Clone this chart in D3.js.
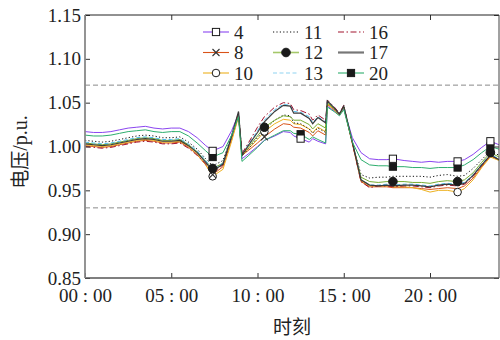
<!DOCTYPE html>
<html>
<head>
<meta charset="utf-8">
<script src="https://cdn.jsdelivr.net/npm/d3@7"></script>
<style>
body { margin: 0; background: #fff; }
text { font-family: "Liberation Serif", "Times New Roman", serif; fill: #222; }
.cjk { font-family: "Noto Sans CJK SC", sans-serif; }
</style>
</head>
<body>
<script>
// ----------------------------------------------- Data ------------------------------------------------ //
// time of day in hours
var hours = [0, 0.5, 1, 1.5, 2, 2.5, 3, 3.5, 4, 4.5,
    5, 5.5, 6, 6.5, 7, 7.4, 8, 8.5, 8.9, 9.1,
    9.5, 10, 10.4, 11, 11.5, 11.9, 12.1, 12.5, 13, 13.2,
    13.5, 13.95, 14.05, 14.5, 14.75, 15, 15.5, 16, 16.5, 17,
    17.5, 17.85, 18.5, 19, 19.5, 20, 20.5, 21, 21.6, 22,
    22.5, 23, 23.5, 24];

// node voltages (p.u.)
var v4 = [1.017, 1.016, 1.016, 1.017, 1.019, 1.021, 1.022, 1.023, 1.021, 1.020,
    1.021, 1.021, 1.017, 1.010, 1.001, 0.995, 1.000, 1.018, 1.037, 0.986,
    0.992, 1.000, 1.007, 1.012, 1.017, 1.016, 1.012, 1.009, 1.005, 1.009,
    1.006, 1.003, 1.046, 1.040, 1.036, 1.043, 1.010, 0.993, 0.986, 0.985,
    0.985, 0.986, 0.984, 0.983, 0.982, 0.983, 0.982, 0.983, 0.983, 0.985,
    0.991, 0.999, 1.006, 1.002];
var v8 = [1.001, 1.000, 0.999, 1.000, 1.002, 1.004, 1.006, 1.007, 1.006, 1.004,
    1.004, 1.005, 0.999, 0.991, 0.979, 0.968, 0.977, 1.008, 1.035, 0.990,
    0.996, 1.004, 1.011, 1.020, 1.026, 1.025, 1.022, 1.021, 1.016, 1.012,
    1.018, 1.013, 1.048, 1.041, 1.036, 1.045, 1.003, 0.960, 0.954, 0.954,
    0.954, 0.953, 0.953, 0.953, 0.952, 0.951, 0.952, 0.953, 0.952, 0.955,
    0.964, 0.977, 0.989, 0.985];
var v10 = [1.002, 1.001, 1.000, 1.001, 1.003, 1.005, 1.007, 1.008, 1.007, 1.005,
    1.005, 1.006, 1.000, 0.991, 0.979, 0.966, 0.974, 1.006, 1.034, 0.990,
    0.998, 1.008, 1.017, 1.026, 1.031, 1.030, 1.026, 1.025, 1.020, 1.016,
    1.022, 1.017, 1.049, 1.041, 1.036, 1.045, 1.004, 0.961, 0.955, 0.955,
    0.955, 0.954, 0.954, 0.953, 0.951, 0.948, 0.950, 0.950, 0.948, 0.952,
    0.962, 0.976, 0.988, 0.984];
var v11 = [1.007, 1.006, 1.005, 1.006, 1.008, 1.010, 1.012, 1.013, 1.012, 1.010,
    1.010, 1.011, 1.005, 0.997, 0.986, 0.978, 0.984, 1.013, 1.037, 0.989,
    0.998, 1.010, 1.019, 1.030, 1.036, 1.035, 1.027, 1.026, 1.020, 1.015,
    1.021, 1.016, 1.050, 1.042, 1.037, 1.046, 1.004, 0.968, 0.964, 0.965,
    0.965, 0.966, 0.966, 0.966, 0.966, 0.965, 0.967, 0.968, 0.966, 0.967,
    0.975, 0.985, 0.995, 0.990];
var v12 = [1.004, 1.003, 1.002, 1.003, 1.005, 1.007, 1.009, 1.010, 1.009, 1.007,
    1.007, 1.008, 1.002, 0.994, 0.983, 0.975, 0.981, 1.011, 1.036, 0.991,
    1.000, 1.012, 1.022, 1.030, 1.035, 1.034, 1.030, 1.030, 1.025, 1.020,
    1.026, 1.021, 1.050, 1.042, 1.037, 1.045, 1.005, 0.965, 0.960, 0.959,
    0.960, 0.960, 0.960, 0.959, 0.959, 0.958, 0.960, 0.961, 0.960, 0.962,
    0.970, 0.982, 0.993, 0.988];
var v13 = [1.005, 1.004, 1.003, 1.004, 1.006, 1.008, 1.010, 1.011, 1.010, 1.008,
    1.008, 1.009, 1.003, 0.995, 0.984, 0.974, 0.981, 1.011, 1.038, 0.992,
    1.003, 1.018, 1.030, 1.042, 1.048, 1.047, 1.040, 1.039, 1.034, 1.027,
    1.034, 1.028, 1.052, 1.043, 1.037, 1.046, 1.006, 0.962, 0.956, 0.956,
    0.957, 0.956, 0.957, 0.957, 0.956, 0.955, 0.957, 0.958, 0.957, 0.959,
    0.968, 0.980, 0.991, 0.986];
var v16 = [1.000, 0.999, 0.998, 0.999, 1.001, 1.003, 1.005, 1.006, 1.005, 1.003,
    1.003, 1.004, 0.998, 0.990, 0.980, 0.970, 0.979, 1.011, 1.039, 0.992,
    1.005, 1.022, 1.034, 1.045, 1.050, 1.049, 1.042, 1.041, 1.037, 1.030,
    1.036, 1.030, 1.053, 1.044, 1.038, 1.047, 1.004, 0.960, 0.953, 0.955,
    0.955, 0.954, 0.955, 0.955, 0.954, 0.953, 0.955, 0.956, 0.955, 0.957,
    0.966, 0.978, 0.990, 0.985];
var v17 = [1.003, 1.002, 1.001, 1.002, 1.004, 1.006, 1.008, 1.009, 1.008, 1.006,
    1.006, 1.007, 1.001, 0.993, 0.982, 0.972, 0.980, 1.012, 1.040, 0.990,
    1.002, 1.016, 1.028, 1.040, 1.047, 1.046, 1.038, 1.038, 1.032, 1.026,
    1.033, 1.027, 1.052, 1.043, 1.037, 1.046, 1.005, 0.962, 0.956, 0.955,
    0.956, 0.955, 0.956, 0.956, 0.955, 0.954, 0.956, 0.957, 0.956, 0.958,
    0.967, 0.979, 0.990, 0.985];
var v20 = [1.013, 1.012, 1.012, 1.013, 1.015, 1.017, 1.018, 1.019, 1.017, 1.016,
    1.017, 1.017, 1.012, 1.004, 0.995, 0.988, 0.993, 1.013, 1.034, 0.983,
    0.990, 0.999, 1.007, 1.013, 1.018, 1.018, 1.015, 1.014, 1.008, 1.011,
    1.008, 1.004, 1.045, 1.039, 1.035, 1.042, 1.005, 0.985, 0.979, 0.978,
    0.978, 0.977, 0.977, 0.976, 0.976, 0.975, 0.976, 0.976, 0.976, 0.979,
    0.985, 0.993, 1.000, 0.997];

var names = ["4", "8", "10", "11", "12", "13", "16", "17", "20"];
var series = [v4, v8, v10, v11, v12, v13, v16, v17, v20];
// hours at which each series shows its marker
var mark_hours = [[7.4, 12.5, 17.85, 21.6, 23.5], [7.4, 10.4], [7.4, 10.4, 21.6], [],
    [7.4, 10.4, 17.85, 21.6, 23.5], [], [], [], [7.4, 12.5, 17.85, 21.6, 23.5]];

var x_ticks = [0, 5, 10, 15, 20];
var y_ticks = [0.85, 0.90, 0.95, 1.00, 1.05, 1.10, 1.15];
var limits = [0.93, 1.07];

// ------------------------------------------- Style ------------------------------------------------- //
var colors = ["#8b45f0", "#d95319", "#edb120", "#111111", "#77ac30", "#4dbeee", "#a2142f", "#3a3a3a", "#2eae6e"];
var legend_colors = ["#8b45f0", "#d95319", "#edb120", "#111111", "#a5c86a", "#8fd3f2", "#a2142f", "#777777", "#2eae6e"];
var dashes = [null, null, null, "1.2,2.2", null, "4,2.5", "6,2.5,1.5,2.5", null, null];
var symbols = ["sq_open", "cross", "circ_open", null, "circ", null, null, null, "sq"];

// ------------------------------------------- Init SVG ---------------------------------------------- //
var W = 500, H = 340;
var box = {left: 85, right: 499, top: 15, bottom: 278};

var svg = d3.select("body")
    .append("svg")
    .attr("width", W)
    .attr("height", H);

var x = d3.scaleLinear().domain([0, 24]).range([box.left, box.right]);
var y = d3.scaleLinear().domain([0.85, 1.15]).range([box.bottom, box.top]);

// ------------------------------------------ Draw Functions ------------------------------------------- //
function draw_marker(sel, type, cx, cy) {
    if (type == "sq_open" || type == "sq") {
        sel.append("rect")
            .attr("x", cx - 3.6).attr("y", cy - 3.6)
            .attr("width", 7.2).attr("height", 7.2)
            .attr("fill", type == "sq" ? "#1a1a1a" : "#fff")
            .attr("stroke", "#1a1a1a").attr("stroke-width", 1);
    } else if (type == "circ" || type == "circ_open") {
        sel.append("circle")
            .attr("cx", cx).attr("cy", cy)
            .attr("r", type == "circ" ? 4.3 : 3.8)
            .attr("fill", type == "circ" ? "#1a1a1a" : "#fff")
            .attr("stroke", "#1a1a1a").attr("stroke-width", 1);
    } else if (type == "cross") {
        sel.append("path")
            .attr("d", "M" + (cx - 3.5) + "," + (cy - 3.5) + "L" + (cx + 3.5) + "," + (cy + 3.5) +
                "M" + (cx - 3.5) + "," + (cy + 3.5) + "L" + (cx + 3.5) + "," + (cy - 3.5))
            .attr("stroke", "#333").attr("stroke-width", 1.1);
    }
}

function draw_limits() {
    svg.append("g").attr("class", "limits")
        .selectAll("line")
        .data(limits)
        .enter().append("line")
            .attr("x1", box.left).attr("x2", box.right)
            .attr("y1", function(d) { return y(d); })
            .attr("y2", function(d) { return y(d); })
            .attr("stroke", "#8a8a8a")
            .attr("stroke-width", 1)
            .attr("stroke-dasharray", "5,3");
}

function draw_lines() {
    var line = d3.line()
        .x(function(d, i) { return x(hours[i]); })
        .y(function(d) { return y(d); });
    svg.append("g").attr("class", "lines")
        .selectAll("path")
        .data(series)
        .enter().append("path")
            .attr("fill", "none")
            .attr("stroke", function(d, i) { return colors[i]; })
            .attr("stroke-width", function(d, i) { return i == 7 ? 1.2 : 1; })
            .attr("stroke-dasharray", function(d, i) { return dashes[i]; })
            .attr("d", line);
}

function draw_markers() {
    var mg = svg.append("g").attr("class", "markers");
    [2, 1, 4, 8, 0].forEach(function(k) {
        mark_hours[k].forEach(function(h) {
            var i = hours.indexOf(h);
            draw_marker(mg, symbols[k], x(h), y(series[k][i]));
        });
    });
}

function draw_axes() {
    var fmt_time = function(d) { return d3.format("02d")(d) + " : 00"; };
    var ax = svg.append("g").attr("class", "axes");

    var bottom = ax.append("g")
        .attr("transform", "translate(0," + box.bottom + ")")
        .call(d3.axisBottom(x).tickValues(x_ticks).tickSize(-5).tickPadding(10).tickFormat(fmt_time));
    var top = ax.append("g")
        .attr("transform", "translate(0," + box.top + ")")
        .call(d3.axisTop(x).tickValues(x_ticks).tickSize(-5).tickFormat(""));
    var left = ax.append("g")
        .attr("transform", "translate(" + box.left + ",0)")
        .call(d3.axisLeft(y).tickValues(y_ticks).tickSize(-5).tickPadding(4).tickFormat(d3.format(".2f")));
    var right = ax.append("g")
        .attr("transform", "translate(" + box.right + ",0)")
        .call(d3.axisRight(y).tickValues(y_ticks).tickSize(-5).tickFormat(""));

    ax.selectAll(".domain").remove();
    ax.selectAll(".tick line").attr("stroke", "#333");
    ax.selectAll(".tick text")
        .attr("font-size", "19px")
        .attr("font-family", "Liberation Serif, Times New Roman, serif")
        .attr("fill", "#222");
    bottom.selectAll(".tick text").attr("dy", "0.72em");

    // frame
    ax.append("line").attr("x1", box.left).attr("x2", box.right).attr("y1", box.top).attr("y2", box.top)
        .attr("stroke", "#222").attr("stroke-width", 1);
    ax.append("line").attr("x1", box.right).attr("x2", box.right).attr("y1", box.top).attr("y2", box.bottom)
        .attr("stroke", "#444").attr("stroke-width", 1);
    ax.append("line").attr("x1", box.left).attr("x2", box.right).attr("y1", box.bottom).attr("y2", box.bottom)
        .attr("stroke", "#555").attr("stroke-width", 1.4);
    ax.append("line").attr("x1", box.left).attr("x2", box.left).attr("y1", box.top).attr("y2", box.bottom)
        .attr("stroke", "#888").attr("stroke-width", 1.8);

    // titles
    svg.append("text")
        .attr("class", "cjk")
        .attr("x", (box.left + box.right) / 2)
        .attr("y", 334)
        .attr("text-anchor", "middle")
        .attr("font-size", "19px")
        .text("时刻");
    var yt = svg.append("text")
        .attr("transform", "translate(27,152) rotate(-90)")
        .attr("text-anchor", "middle")
        .attr("font-size", "20px");
    yt.append("tspan").attr("class", "cjk").attr("font-size", "19px").text("电压");
    yt.append("tspan").text("/p.u.");
}

function draw_legend() {
    var rows = [32, 52.5, 73];
    var cols = [203, 273, 338];
    var leg = svg.append("g").attr("class", "legend");
    names.forEach(function(n, i) {
        var cx = cols[Math.floor(i / 3)], cy = rows[i % 3];
        leg.append("line")
            .attr("x1", cx).attr("x2", cx + 26)
            .attr("y1", cy).attr("y2", cy)
            .attr("stroke", legend_colors[i])
            .attr("stroke-width", i == 7 ? 2.2 : (i == 4 ? 1.6 : 1.1))
            .attr("stroke-dasharray", dashes[i]);
        if (symbols[i]) draw_marker(leg, symbols[i], cx + 13, cy);
        leg.append("text")
            .attr("x", cx + 31)
            .attr("y", cy)
            .attr("dy", "0.35em")
            .attr("font-size", "19px")
            .text(n);
    });
}

// ----------------------------------------------- Main ------------------------------------------------ //
draw_limits();
draw_lines();
draw_markers();
draw_axes();
draw_legend();
</script>
</body>
</html>
